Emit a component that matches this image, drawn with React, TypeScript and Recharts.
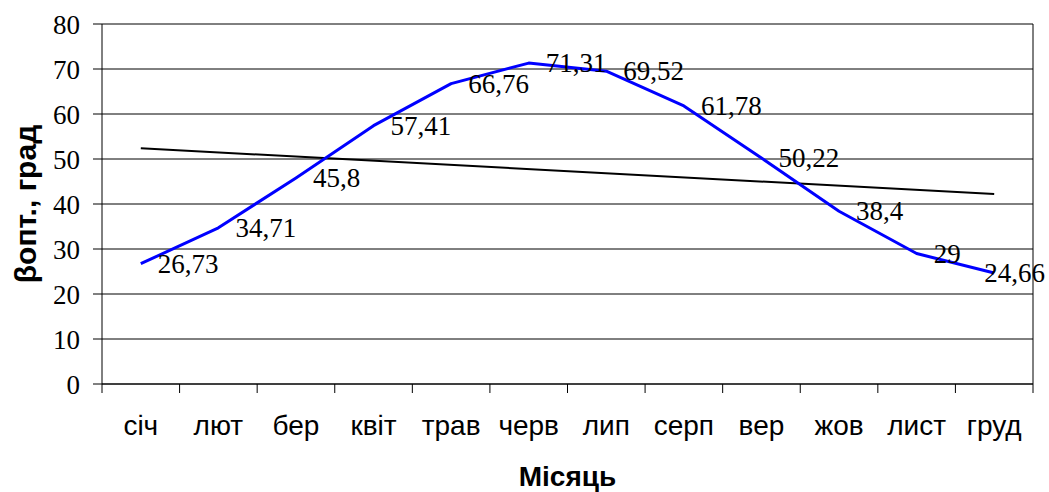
import React from "react";
import {
  LineChart,
  Line,
  XAxis,
  YAxis,
  CartesianGrid,
  LabelList,
  Label,
} from "recharts";

const months = ["січ", "лют", "бер", "квіт", "трав", "черв", "лип", "серп", "вер", "жов", "лист", "груд"];
const betaOpt = [26.73, 34.71, 45.8, 57.41, 66.76, 71.31, 69.52, 61.78, 50.22, 38.4, 29, 24.66];
// linear trend: only the two ends are drawn
const trend = [52.4, null, null, null, null, null, null, null, null, null, null, 42.2];
const yTicks = [0, 10, 20, 30, 40, 50, 60, 70, 80];

const data = months.map((m, i) => ({ month: m, value: betaOpt[i], trend: trend[i] }));

const W = 1049;
const H = 492;
const PLOT_LEFT = 102;
const PLOT_RIGHT = 1033;
const BAND = (PLOT_RIGHT - PLOT_LEFT) / months.length;

const SERIF = "'Liberation Serif', 'Times New Roman', serif";
const SANS = "'Liberation Sans', Arial, sans-serif";

const MonthTick = (props: any) => {
  const { x, y, payload, index } = props;
  const half = BAND / 2;
  return (
    <g>
      <line x1={x - half} y1={y} x2={x - half} y2={y + 9} stroke="#000" />
      {index === months.length - 1 && (
        <line x1={x + half} y1={y} x2={x + half} y2={y + 9} stroke="#000" />
      )}
      <text x={x} y={y + 51} textAnchor="middle" fontFamily={SANS} fontSize={28} fill="#000">
        {payload.value}
      </text>
    </g>
  );
};

const YTitle = (props: any) => {
  const { viewBox } = props;
  const cx = viewBox.x + 25;
  const cy = viewBox.y + viewBox.height / 2;
  return (
    <text
      x={cx}
      y={cy}
      transform={`rotate(-90, ${cx}, ${cy})`}
      textAnchor="middle"
      dominantBaseline="central"
      fontFamily={SANS}
      fontWeight="bold"
      fontSize={30}
      fill="#000"
    >
      βопт., град
    </text>
  );
};

const XTitle = (props: any) => {
  const { viewBox } = props;
  const cx = viewBox.x + viewBox.width / 2;
  const cy = viewBox.y + 92;
  return (
    <text x={cx} y={cy} textAnchor="middle" dominantBaseline="central" fontFamily={SANS} fontWeight="bold" fontSize={28} fill="#000">
      Місяць
    </text>
  );
};

const fmt = (v: any) => String(v).replace(".", ",");

const ValueLabel = (props: any) => {
  const { x, y, value, index } = props;
  // the last label is pushed back so it stays inside the picture
  const dx = index === betaOpt.length - 1 ? -10 : 17;
  return (
    <text x={x + dx} y={y} dominantBaseline="central" fontFamily={SERIF} fontSize={27} fill="#000">
      {fmt(value)}
    </text>
  );
};

export default function App() {
  return (
    <div style={{ position: "absolute", left: 0, top: 0, width: W, height: H, background: "#fff" }}>
      <LineChart width={W} height={H} data={data} margin={{ top: 24, right: 15, bottom: 0, left: 0 }}>
        <CartesianGrid vertical={false} stroke="#000" />
        <XAxis
          dataKey="month"
          interval={0}
          height={108}
          padding={{ left: BAND / 2, right: BAND / 2 }}
          stroke="#000"
          tickLine={false}
          tickSize={0}
          tickMargin={0}
          tick={<MonthTick />}
        >
          <Label content={<XTitle />} />
        </XAxis>
        <YAxis
          width={102}
          domain={[0, 80]}
          ticks={yTicks}
          stroke="#000"
          tickSize={9}
          tickMargin={13}
          tick={{ fontFamily: SERIF, fontSize: 27, fill: "#000" }}
        >
          <Label content={<YTitle />} />
        </YAxis>
        <YAxis yAxisId="r" orientation="right" width={1} domain={[0, 80]} tick={false} tickLine={false} stroke="#000" />
        <Line
          dataKey="trend"
          type="linear"
          stroke="#000"
          strokeWidth={2}
          dot={false}
          connectNulls
          isAnimationActive={false}
        />
        <Line
          dataKey="value"
          type="linear"
          stroke="#0000ff"
          strokeWidth={3}
          strokeLinejoin="round"
          dot={false}
          isAnimationActive={false}
        >
          <LabelList dataKey="value" content={<ValueLabel />} />
        </Line>
      </LineChart>
    </div>
  );
}
